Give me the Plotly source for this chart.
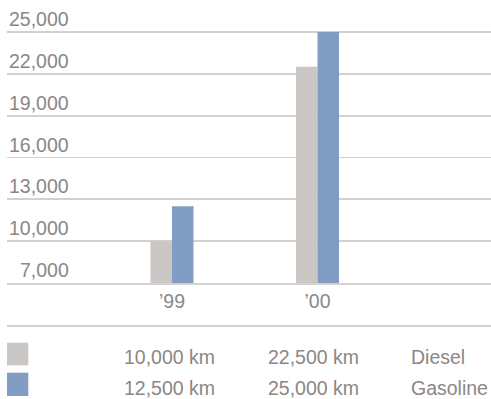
import plotly.graph_objects as go

# Annual mileage by fuel type
years = ["\u201999", "\u201900"]
diesel_km = [10000, 22500]
gasoline_km = [12500, 25000]
series_names = ["Diesel", "Gasoline"]
y_ticks = [7000, 10000, 13000, 16000, 19000, 22000, 25000]
y_tick_labels = ["7,000", "10,000", "13,000", "16,000", "19,000", "22,000", "25,000"]

DIESEL_COLOR = "#cbc7c4"
GASOLINE_COLOR = "#829dc3"
TEXT_COLOR = "#8c8685"
GRID_COLOR = "#d4d0d0"
FONT = "Liberation Sans, Arial, Helvetica, sans-serif"
FS = 19.5

W, H = 491, 399
ML, MR, MT, MB = 7, 0, 24, 116
plot_w = W - ML - MR
plot_h = H - MT - MB

# 3,000 km per 41.8 px; the top tick sits at 32 px from the top
units_per_px = (y_ticks[-1] - y_ticks[0]) / (H - MB - 32)
y_top = y_ticks[0] + plot_h * units_per_px


def px_x(px):
    return (px - ML) / plot_w


def px_y(py):
    return (H - MB - py) / plot_h


fig = go.Figure()
fig.add_trace(go.Bar(x=years, y=[v - y_ticks[0] for v in diesel_km], base=y_ticks[0],
                     name=series_names[0], marker=dict(color=DIESEL_COLOR, line=dict(width=0))))
fig.add_trace(go.Bar(x=years, y=[v - y_ticks[0] for v in gasoline_km], base=y_ticks[0],
                     name=series_names[1], marker=dict(color=GASOLINE_COLOR, line=dict(width=0))))

annotations = []
# y tick labels sit above their gridlines, right aligned
for v, t in zip(y_ticks, y_tick_labels):
    annotations.append(dict(x=px_x(70.5), xref="paper", y=v, yref="y", text=t,
                            xanchor="right", yanchor="bottom", showarrow=False, yshift=0,
                            font=dict(family=FONT, size=FS, color=TEXT_COLOR)))

# value table under the chart
rows = [(diesel_km, series_names[0], 357), (gasoline_km, series_names[1], 388)]
col_x = [122.0, 266.0, 408.5]
for vals, name, cy in rows:
    cells = [f"{vals[0]:,} km", f"{vals[1]:,} km", name]
    for cx, txt in zip(col_x, cells):
        annotations.append(dict(x=px_x(cx), xref="paper", y=px_y(cy), yref="paper", text=txt,
                                xanchor="left", yanchor="middle", showarrow=False,
                                font=dict(family=FONT, size=FS, color=TEXT_COLOR)))

shapes = [
    dict(type="line", xref="paper", yref="paper", x0=0, x1=1, y0=px_y(326), y1=px_y(326),
         line=dict(color=GRID_COLOR, width=1.8)),
    dict(type="rect", xref="paper", yref="paper", x0=px_x(7), x1=px_x(28.3),
         y0=px_y(365.3), y1=px_y(342.7), fillcolor=DIESEL_COLOR, line=dict(width=0)),
    dict(type="rect", xref="paper", yref="paper", x0=px_x(7), x1=px_x(28.3),
         y0=px_y(396), y1=px_y(372.7), fillcolor=GASOLINE_COLOR, line=dict(width=0)),
]

# category centres at 172px and 317.5px
unit = 317.5 - 172
x_range = [(ML - 172) / unit, (W - MR - 172) / unit]

fig.update_layout(
    width=W, height=H,
    margin=dict(l=ML, r=MR, t=MT, b=MB, pad=0),
    paper_bgcolor="white", plot_bgcolor="white",
    barmode="group", bargap=1 - 43 / unit, bargroupgap=0,
    showlegend=False,
    font=dict(family=FONT, size=FS, color=TEXT_COLOR),
    xaxis=dict(type="category", range=x_range, showgrid=False, zeroline=False,
               showline=True, linecolor=GRID_COLOR, linewidth=1.8,
               ticks="", tickfont=dict(family=FONT, size=FS, color=TEXT_COLOR),
               fixedrange=True),
    yaxis=dict(range=[y_ticks[0], y_top], tickvals=y_ticks, showticklabels=False,
               showgrid=True, gridcolor=GRID_COLOR, gridwidth=1.8, zeroline=False,
               showline=False, ticks="", fixedrange=True),
    annotations=annotations,
    shapes=shapes,
    hovermode=False,
)

fig.write_html("out.html", config={"displayModeBar": False, "staticPlot": True})
